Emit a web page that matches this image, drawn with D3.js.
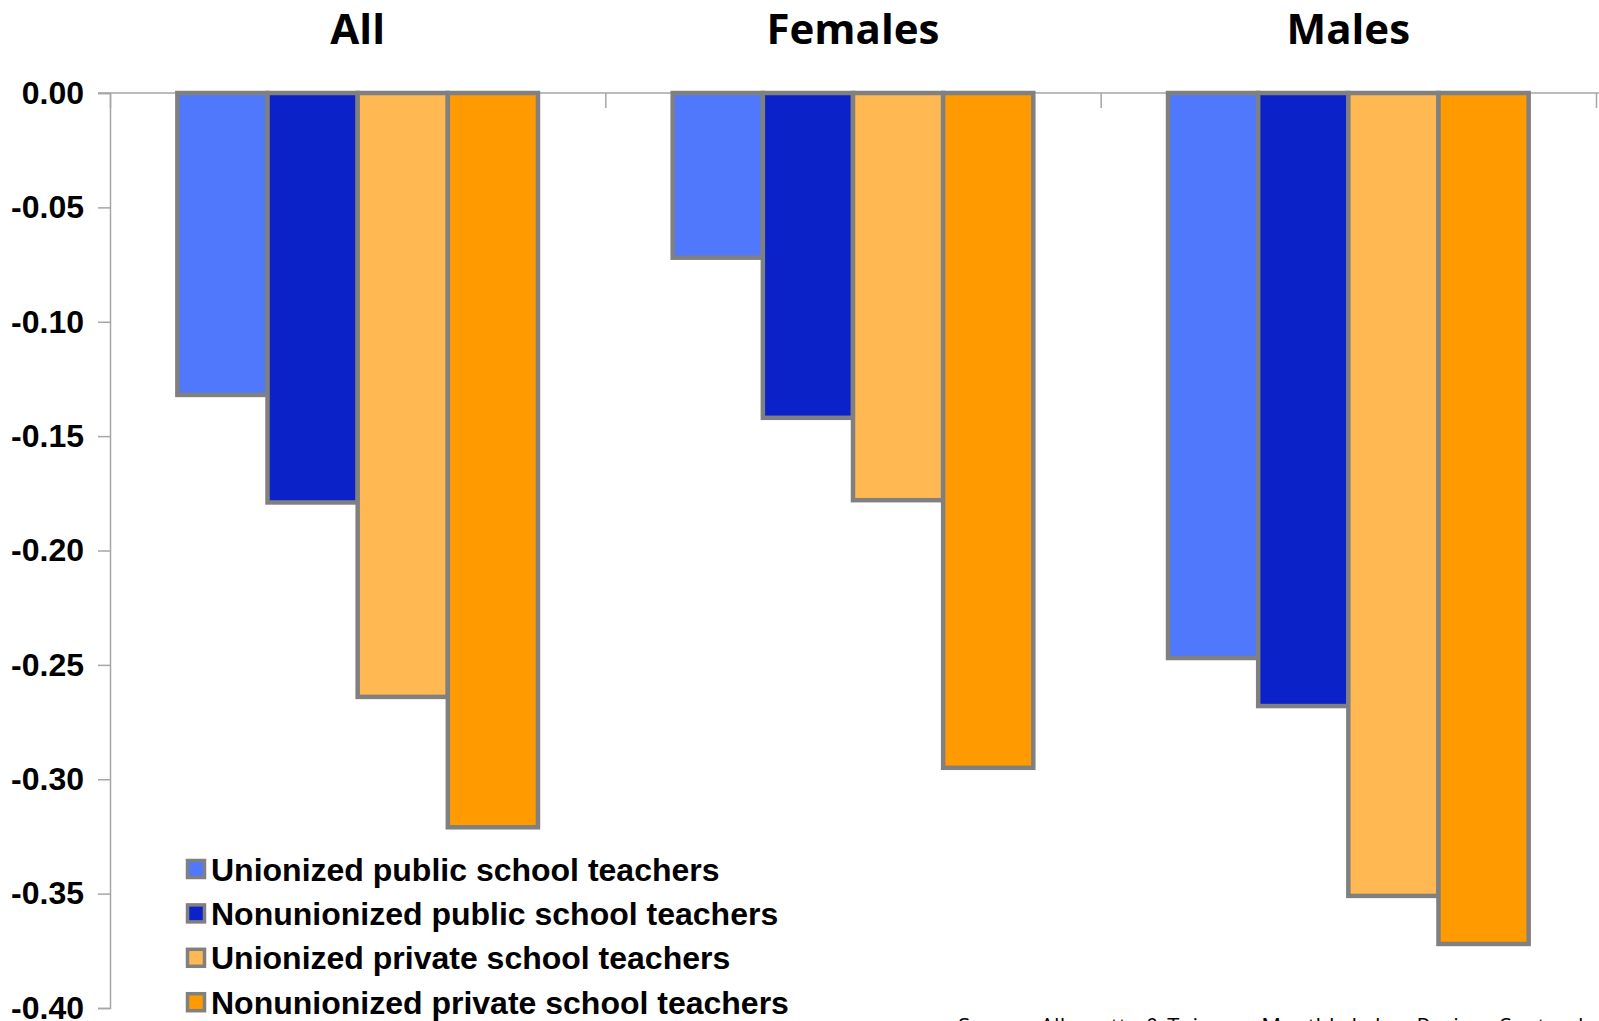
<!DOCTYPE html>
<html>
<head>
<meta charset="utf-8">
<script src="https://cdn.jsdelivr.net/npm/d3@7"></script>
<style>
  html, body { margin: 0; padding: 0; background: #fff; }
  svg { display: block; }
</style>
</head>
<body>
<svg id="chart" width="1599" height="1021"></svg>
<script>
// ---- data ----
const categories = ["All", "Females", "Males"];
const seriesNames = [
  "Unionized public school teachers",
  "Nonunionized public school teachers",
  "Unionized private school teachers",
  "Nonunionized private school teachers"
];
const unionizedPublic    = [-0.132, -0.072, -0.247];
const nonunionizedPublic = [-0.179, -0.142, -0.268];
const unionizedPrivate   = [-0.264, -0.178, -0.351];
const nonunionizedPrivate= [-0.321, -0.295, -0.372];
const seriesColors = ["#4F78FC", "#0A22C8", "#FFB852", "#FF9A00"];
const yTickValues = [0, -0.05, -0.10, -0.15, -0.20, -0.25, -0.30, -0.35, -0.40];
const yTickLabels = ["0.00", "-0.05", "-0.10", "-0.15", "-0.20", "-0.25", "-0.30", "-0.35", "-0.40"];
const sourceText = "Source: Allegretto & Tojerow, Monthly Labor Review, September 2014";

const seriesValues = [unionizedPublic, nonunionizedPublic, unionizedPrivate, nonunionizedPrivate];

// ---- layout ----
const svg = d3.select("#chart");
const plotLeft = 110, plotRight = 1596, plotTop = 93, plotBottom = 1008;

const x0 = d3.scaleBand().domain(categories).range([plotLeft, plotRight]).paddingInner(0).paddingOuter(0);
const pad = x0.bandwidth() * 0.136;
const x1 = d3.scaleBand().domain(d3.range(seriesNames.length)).range([pad, x0.bandwidth() - pad]).padding(0);
const y = d3.scaleLinear().domain([0, -0.40]).range([plotTop, plotBottom]);

const axisColor = "#A6A6A6";

// y axis
const yAxis = d3.axisLeft(y)
  .tickValues(yTickValues)
  .tickSize(12)
  .tickPadding(14)
  .tickFormat((d, i) => yTickLabels[i]);
const gy = svg.append("g").attr("transform", `translate(${plotLeft},0)`).call(yAxis);
gy.select(".domain").attr("stroke", axisColor).attr("stroke-width", 1.5);
gy.selectAll(".tick line").attr("stroke", axisColor).attr("stroke-width", 1.5);
gy.selectAll(".tick text")
  .attr("fill", "#000")
  .style("font-family", "'Liberation Sans', Arial, sans-serif")
  .style("font-weight", "bold")
  .style("font-size", "32px");

// top category axis (zero line with ticks at band boundaries)
const xb = d3.scaleLinear().domain([0, categories.length]).range([plotLeft, plotRight]);
const xAxis = d3.axisBottom(xb).tickValues(d3.range(categories.length + 1)).tickSize(15).tickFormat("");
const gx = svg.append("g").attr("transform", `translate(0,${y(0)})`).call(xAxis);
gx.select(".domain").remove();
gx.selectAll(".tick line").attr("stroke", axisColor).attr("stroke-width", 1.5);
svg.append("line")
  .attr("x1", plotLeft - 12).attr("x2", 1599)
  .attr("y1", y(0)).attr("y2", y(0))
  .attr("stroke", axisColor).attr("stroke-width", 1.5);

// bars
const groups = svg.append("g").selectAll("g")
  .data(categories)
  .join("g")
  .attr("transform", d => `translate(${x0(d)},0)`);

groups.selectAll("rect")
  .data((c, ci) => seriesValues.map((vals, si) => ({ si, v: vals[ci] })))
  .join("rect")
  .attr("x", d => x1(d.si))
  .attr("width", x1.bandwidth())
  .attr("y", d => y(0))
  .attr("height", d => y(d.v) - y(0))
  .attr("fill", d => seriesColors[d.si])
  .attr("stroke", "#808080")
  .attr("stroke-width", 4.5);

// category titles
svg.append("g").selectAll("text")
  .data(categories)
  .join("text")
  .attr("x", d => x0(d) + x0.bandwidth() / 2)
  .attr("y", 44)
  .attr("text-anchor", "middle")
  .style("font-family", "'Open Sans', sans-serif")
  .style("font-weight", "bold")
  .style("font-size", "42px")
  .attr("fill", "#000")
  .text(d => d);

// legend
const legend = svg.append("g").attr("transform", "translate(186,869)");
const rows = legend.selectAll("g")
  .data(seriesNames)
  .join("g")
  .attr("transform", (d, i) => `translate(0,${i * 44.4})`);
rows.append("rect")
  .attr("x", 1.5).attr("y", -8.5)
  .attr("width", 17).attr("height", 17)
  .attr("fill", (d, i) => seriesColors[i])
  .attr("stroke", "#808080")
  .attr("stroke-width", 3.5);
rows.append("text")
  .attr("x", 25)
  .attr("y", 11.5)
  .style("font-family", "'Liberation Sans', Arial, sans-serif")
  .style("font-weight", "bold")
  .style("font-size", "32px")
  .attr("fill", "#000")
  .text(d => d);

// source (cut off at bottom edge)
svg.append("text")
  .attr("x", 958)
  .attr("y", 1034)
  .style("font-family", "'Open Sans', sans-serif")
  .style("font-size", "22px")
  .attr("fill", "#000")
  .text(sourceText);
</script>
</body>
</html>
